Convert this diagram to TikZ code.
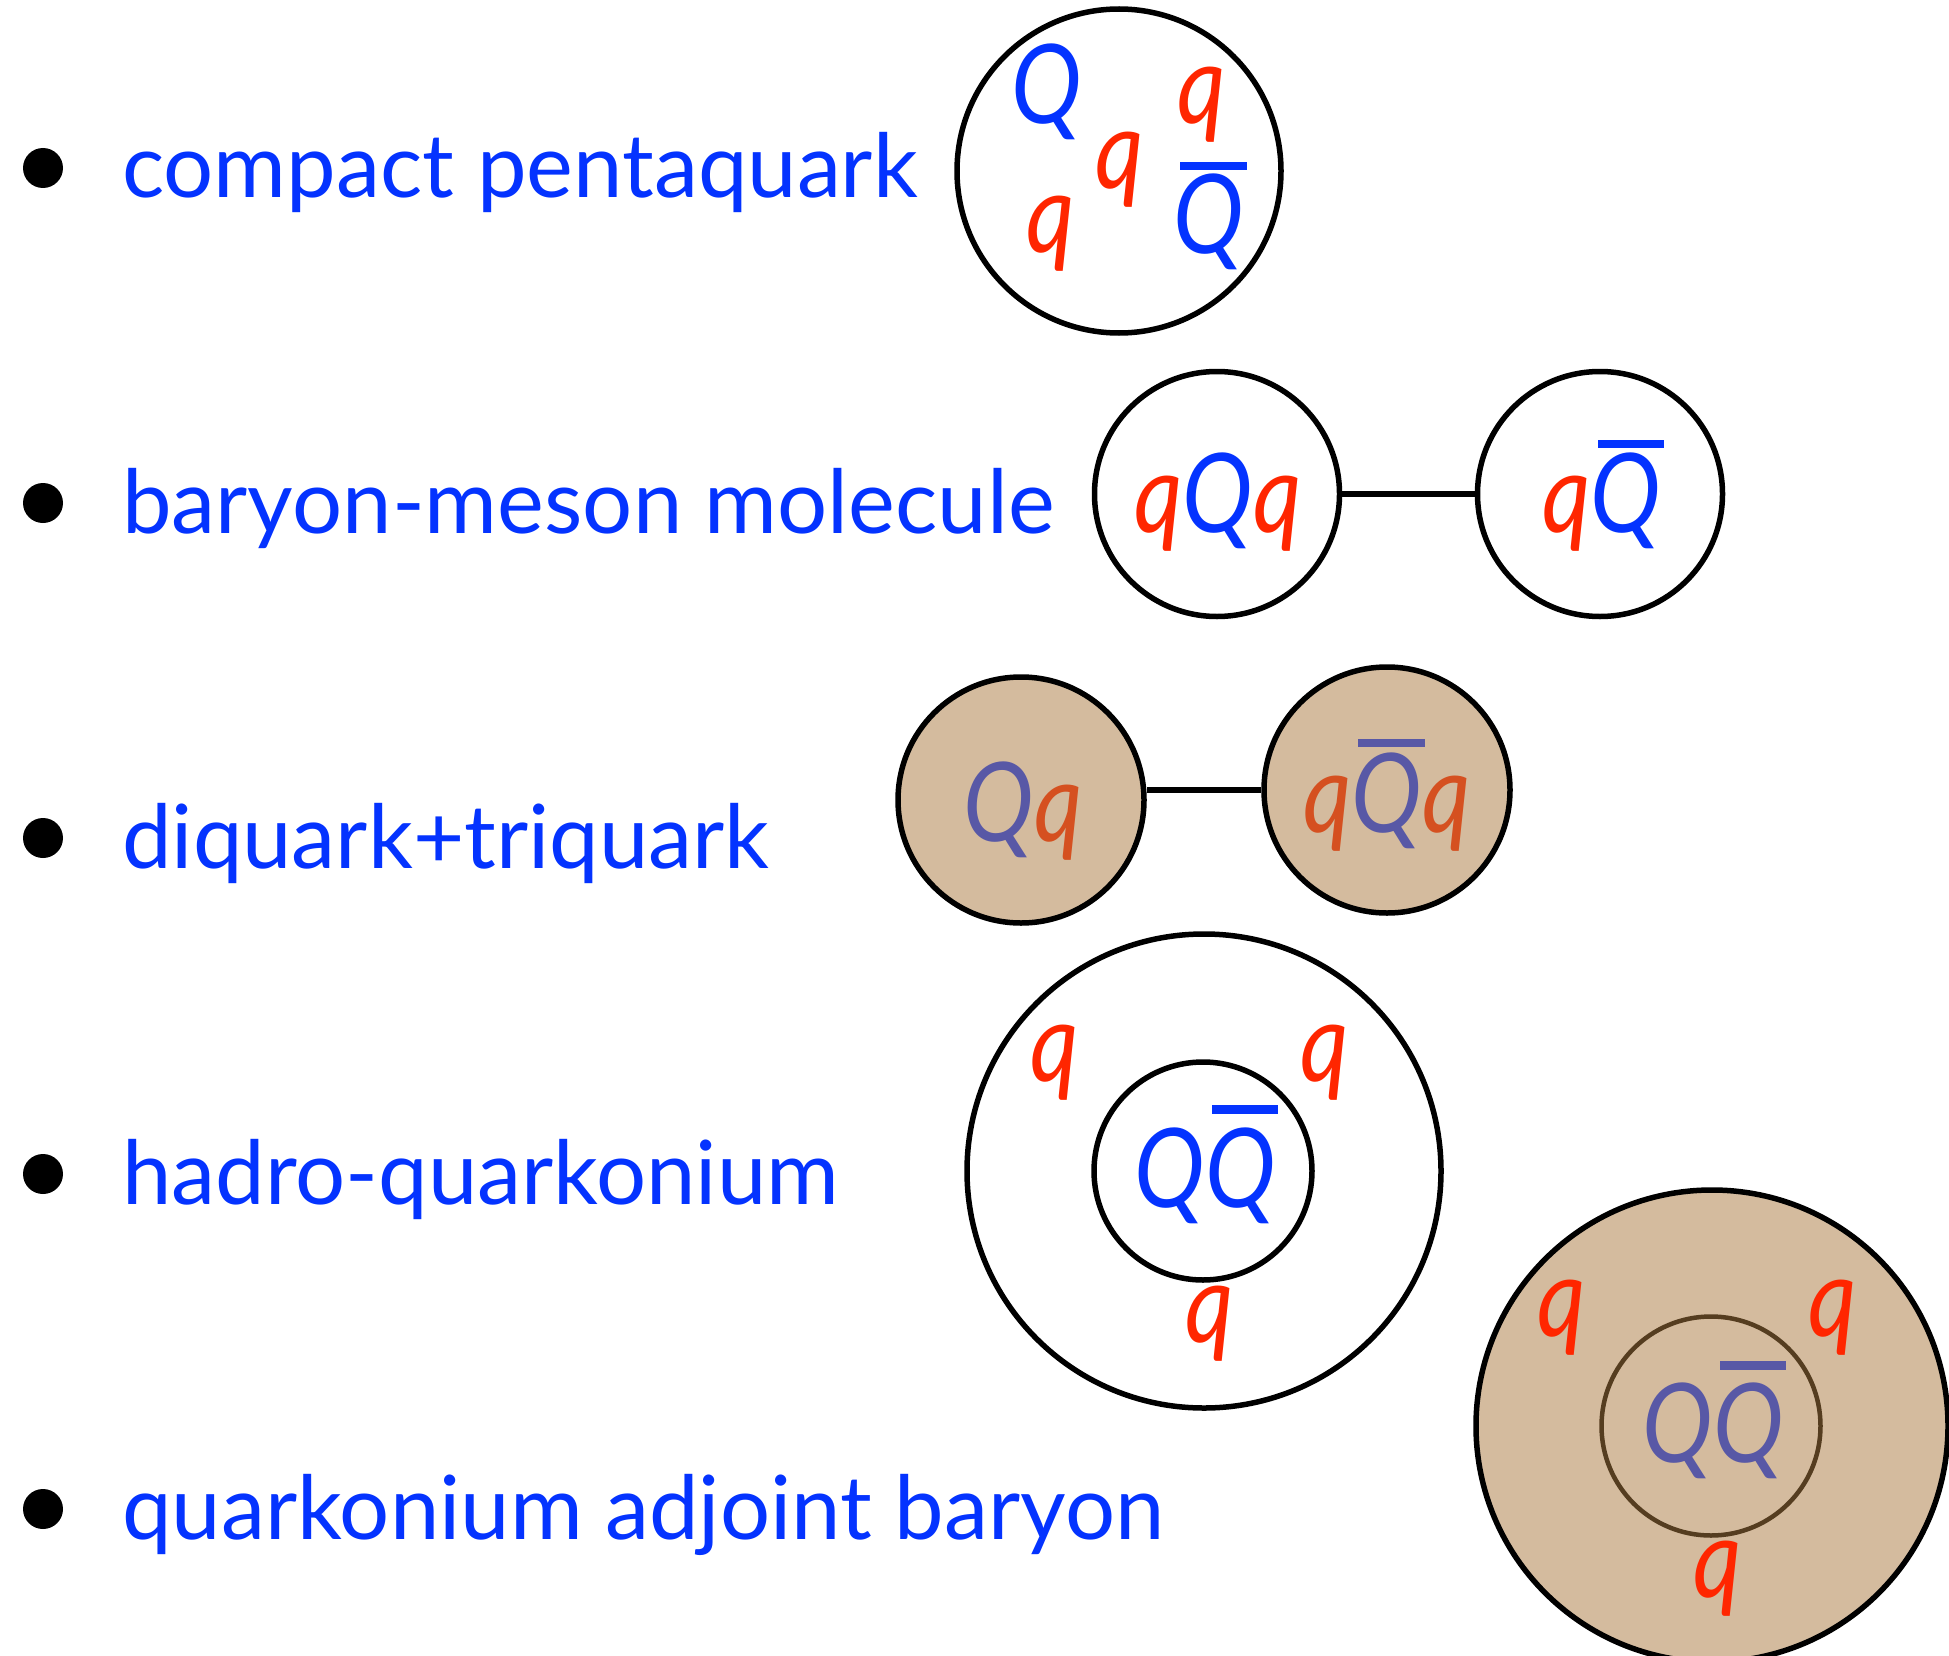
\documentclass[tikz,border=0pt]{standalone}
\usepackage{fontspec}
\usepackage{graphicx}
\setmainfont{Lato}
\definecolor{tblue}{RGB}{4,51,255}
\definecolor{qred}{RGB}{255,38,0}
\definecolor{tan}{RGB}{212,187,158}
\definecolor{slate}{RGB}{88,88,166}
\definecolor{rust}{RGB}{213,80,32}
\definecolor{brownline}{RGB}{85,61,32}
\newcommand\qc[1]{\textcolor{#1}{q}}
\newcommand\Qc[1]{\textcolor{#1}{Q}}
\newcommand\Qbarc[2]{\textcolor{#1}{\rlap{\hspace{0.07em}\rule[#2]{0.7em}{0.075em}}Q}}
\newcommand\nar[1]{\scalebox{0.86}[1]{#1}}
\begin{document}
\begin{tikzpicture}[x=1pt,y=-1pt,
  itemtext/.style={anchor=base west, text=tblue, inner sep=0, font=\fontsize{88.5}{100}\selectfont},
  bulletdot/.style={circle, fill=black, minimum size=40pt, inner sep=0},
  quark/.style={anchor=base, inner sep=0, font=\fontsize{110}{120}\selectfont\itshape},
  blob/.style={circle, draw=black, line width=5.5pt, inner sep=0},
  tanblob/.style={blob, fill=tan},
  link/.style={line width=6.5pt}]
\useasboundingbox (0,0) rectangle (1949,1656);
\clip (0,0) rectangle (1949,1656);

% bullets and texts
\node[bulletdot] (b1) at (43,168) {};
\node[bulletdot] (b2) at (43,503) {};
\node[bulletdot] (b3) at (43,838) {};
\node[bulletdot] (b4) at (43,1174) {};
\node[bulletdot] (b5) at (43,1509) {};
\node[itemtext] (t1) at (122,198) {compact pentaquark};
\node[itemtext] (t2) at (122,533) {baryon-meson molecule};
\node[itemtext] (t3) at (122,868) {diquark+triquark};
\node[itemtext] (t4) at (122,1204) {hadro-quarkonium};
\node[itemtext] (t5) at (122,1539) {quarkonium adjoint baryon};

% row 1: compact pentaquark
\node[blob, minimum size=324pt] (c1) at (1119,171) {};
\node[quark] (p1) at (1047,124) {\nar{\Qc{tblue}}};
\node[quark] (p2) at (1051,252) {\nar{\qc{qred}}};
\node[quark] (p3) at (1120,189) {\nar{\qc{qred}}};
\node[quark] (p4) at (1202,124) {\nar{\qc{qred}}};
\node[quark] (p5) at (1209,254) {\nar{\Qbarc{tblue}{0.76em}}};

% row 2: baryon-meson molecule
\node[blob, minimum size=245pt] (m1) at (1217,494) {};
\node[blob, minimum size=245pt] (m2) at (1600,494) {};
\draw[link] (m1.east) -- (m2.west);
\node[quark] (m1t) at (1218,532) {\nar{\qc{qred}\Qc{tblue}\qc{qred}}};
\node[quark] (m2t) at (1602,532) {\nar{\qc{qred}\Qbarc{tblue}{0.76em}}};

% row 3: diquark + triquark
\node[tanblob, minimum size=246pt] (d1) at (1021,800) {};
\node[tanblob, minimum size=246pt] (d2) at (1387,790) {};
\draw[link] (d1.east |- d2.west) -- (d2.west);
\node[quark] (d1t) at (1023,841) {\nar{\Qc{slate}\qc{rust}}};
\node[quark] (d2t) at (1387,832) {\nar{\qc{rust}\Qbarc{slate}{0.77em}\qc{rust}}};

% row 4: hadro-quarkonium
\node[blob, minimum size=474pt] (h1) at (1204,1171) {};
\node[blob, minimum size=218pt] (h2) at (1203,1171) {};
\node[quark] (h2t) at (1205,1207) {\nar{\Qc{tblue}\Qbarc{tblue}{0.85em}}};
\node[quark] (h3) at (1055,1081) {\nar{\qc{qred}}};
\node[quark] (h4) at (1325,1081) {\nar{\qc{qred}}};
\node[quark] (h5) at (1210,1342) {\nar{\qc{qred}}};

% row 5: quarkonium adjoint baryon
\node[tanblob, minimum size=472pt] (a1) at (1712,1426) {};
\node[circle, draw=brownline, line width=4.5pt, inner sep=0, minimum size=219pt] (a2) at (1711,1426) {};
\node[quark] (a2t) at (1713,1462) {\nar{\Qc{slate}\Qbarc{slate}{0.84em}}};
\node[quark] (a3) at (1562,1336) {\nar{\qc{qred}}};
\node[quark] (a4) at (1833,1336) {\nar{\qc{qred}}};
\node[quark] (a5) at (1718,1597) {\nar{\qc{qred}}};
\end{tikzpicture}
\end{document}
